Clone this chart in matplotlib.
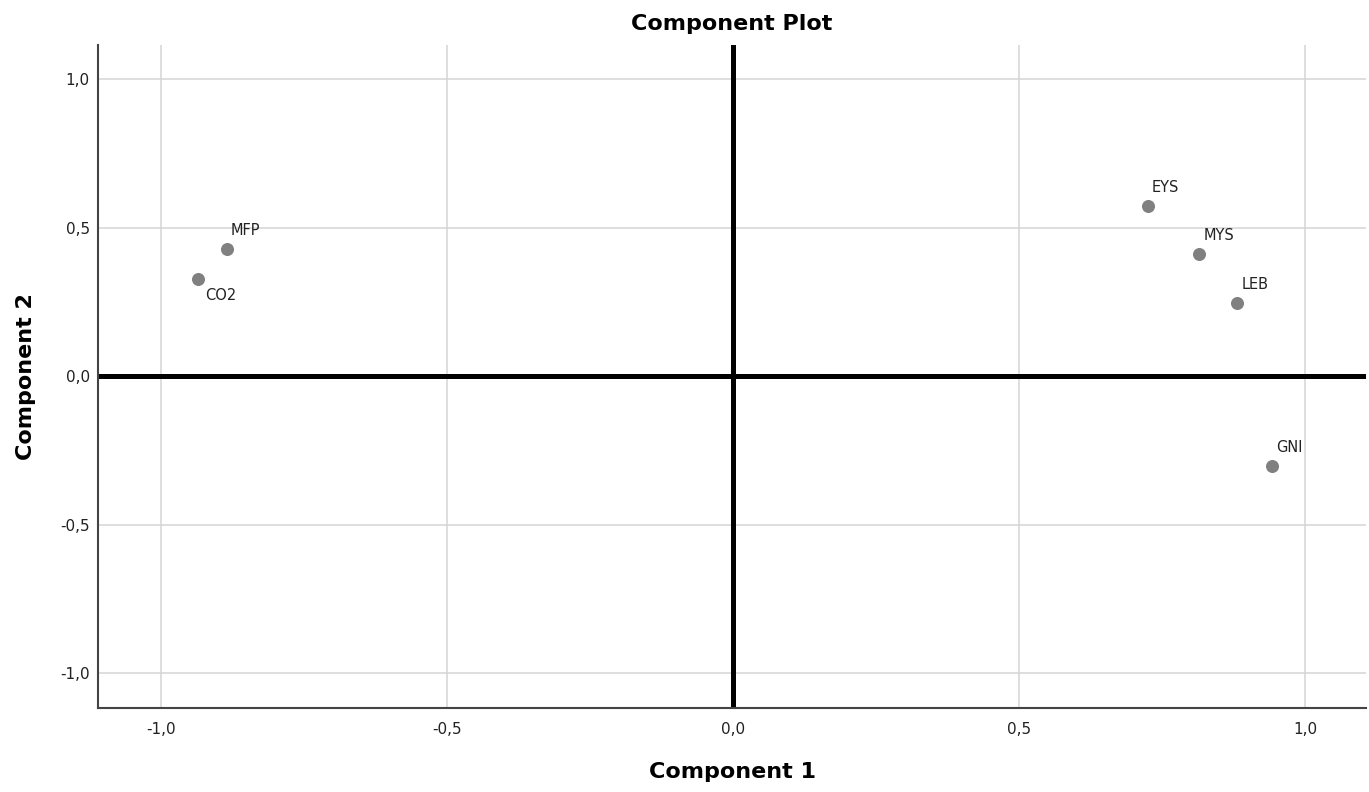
import matplotlib
matplotlib.use("Agg")
import matplotlib.pyplot as plt
from matplotlib.ticker import FuncFormatter

# Cargas de los componentes
variables = ["MFP", "CO2", "EYS", "MYS", "LEB", "GNI"]
comp1 = [-0.885, -0.935, 0.725, 0.815, 0.881, 0.942]
comp2 = [0.427, 0.328, 0.573, 0.411, 0.247, -0.302]
ticks = [-1.0, -0.5, 0.0, 0.5, 1.0]

plt.rcParams['font.family'] = ['DejaVu Sans']

fig = plt.figure(figsize=(13.69, 7.92), dpi=100)
ax = fig.add_axes([0.0716, 0.106, 0.9264, 0.837])

ax.set_xlim(-1.11, 1.107)
ax.set_ylim(-1.118, 1.114)
ax.set_xticks(ticks)
ax.set_yticks(ticks)
fmt = FuncFormatter(lambda v, p: f"{v:.1f}".replace(".", ","))
ax.xaxis.set_major_formatter(fmt)
ax.yaxis.set_major_formatter(fmt)
ax.grid(True, color="#d4d4d4", linewidth=1.1)
ax.set_axisbelow(True)

ax.axhline(0, color="black", linewidth=3.6, zorder=2)
ax.axvline(0, color="black", linewidth=3.6, zorder=2)

ax.scatter(comp1, comp2, s=70, color="#808080", zorder=3)

for nombre, x, y in zip(variables, comp1, comp2):
    if nombre == "CO2":
        ax.annotate(nombre, (x, y), xytext=(5, -7), textcoords="offset points",
                    ha="left", va="top", fontsize=10.5, color="#222222")
    else:
        ax.annotate(nombre, (x, y), xytext=(3, 8), textcoords="offset points",
                    ha="left", va="bottom", fontsize=10.5, color="#222222")

for lado in ["top", "right"]:
    ax.spines[lado].set_visible(False)
for lado in ["left", "bottom"]:
    ax.spines[lado].set_color("#444444")
    ax.spines[lado].set_linewidth(1.5)

ax.tick_params(length=0, labelsize=11, colors="#222222")
ax.tick_params(axis="x", pad=10)
ax.tick_params(axis="y", pad=6)
ax.set_xlabel("Component 1", fontsize=16, fontweight="bold", labelpad=18)
ax.set_ylabel("Component 2", fontsize=16, fontweight="bold", labelpad=17)
ax.set_title("Component Plot", fontsize=16, fontweight="bold", pad=11)

fig.savefig("out.png", dpi=100)
